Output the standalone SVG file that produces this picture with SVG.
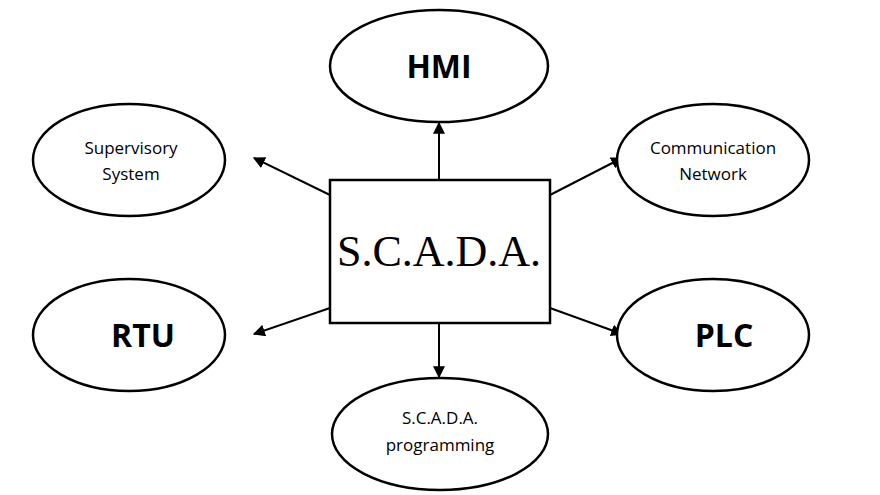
<svg xmlns="http://www.w3.org/2000/svg" width="880" height="495" viewBox="0 0 880 495">
<style>
.n{fill:#fff;stroke:#000;stroke-width:2.5}
.s{font-family:"Open Sans","Liberation Sans",sans-serif;font-size:17px;text-anchor:middle}
.b{font-family:"Open Sans","Liberation Sans",sans-serif;font-size:32px;font-weight:bold;text-anchor:middle}
.c line{stroke:#000;stroke-width:2;marker-end:url(#a)}
</style>
<defs><marker id="a" viewBox="0 0 10 10" refX="9" refY="5" markerWidth="6" markerHeight="6" orient="auto"><path d="M0,0L10,5L0,10z"/></marker></defs>
<rect width="880" height="495" fill="#fff"/>
<g class="c" id="connectors">
<line x1="439" y1="180" x2="439" y2="123"/>
<line x1="330" y1="195" x2="254" y2="158"/>
<line x1="550" y1="195" x2="622" y2="158"/>
<line x1="330" y1="308" x2="254" y2="334"/>
<line x1="550" y1="308" x2="622" y2="334"/>
<line x1="439" y1="323" x2="439" y2="377"/>
</g>
<g id="scada"><rect class="n" x="330" y="180" width="220" height="143"/><text x="439" y="266" font-family="Liberation Serif,serif" font-size="44" text-anchor="middle">S.C.A.D.A.</text></g>
<g id="hmi"><ellipse class="n" cx="439" cy="66" rx="109" ry="56"/><text class="b" x="439" y="78">HMI</text></g>
<g id="sup"><ellipse class="n" cx="129" cy="160" rx="96" ry="56"/><text class="s" x="131" y="154">Supervisory</text><text class="s" x="131" y="180">System</text></g>
<g id="comm"><ellipse class="n" cx="713" cy="160" rx="96" ry="56"/><text class="s" x="713" y="154">Communication</text><text class="s" x="713" y="180">Network</text></g>
<g id="rtu"><ellipse class="n" cx="129" cy="335" rx="96" ry="56"/><text class="b" x="143" y="347">RTU</text></g>
<g id="plc"><ellipse class="n" cx="713" cy="335" rx="96" ry="56"/><text class="b" x="724" y="347">PLC</text></g>
<g id="prog"><ellipse class="n" cx="440" cy="434" rx="108" ry="56"/><text class="s" x="440" y="424">S.C.A.D.A.</text><text class="s" x="440" y="451">programming</text></g>
</svg>
